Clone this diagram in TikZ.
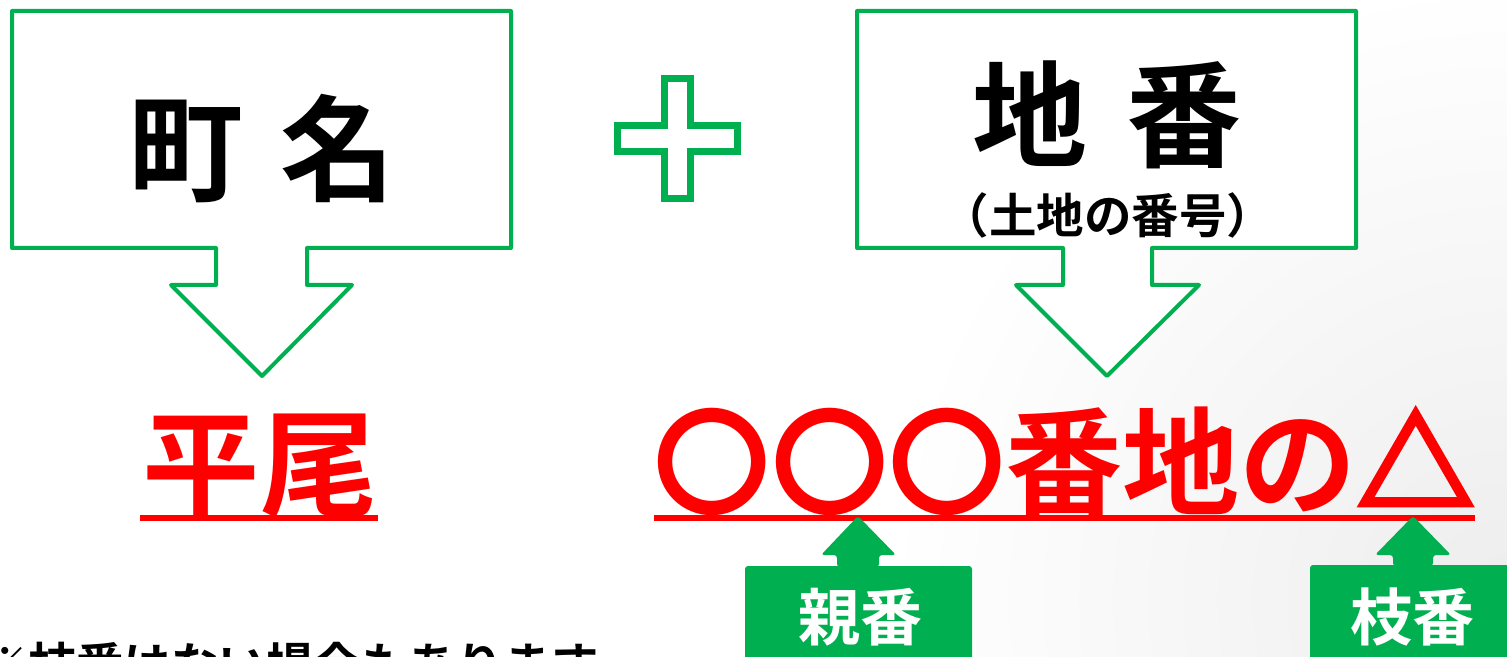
\documentclass[tikz,border=0pt]{standalone}
\usepackage{fontspec}
\setmainfont{Noto Sans CJK JP}[BoldFont={Noto Sans CJK JP Bold}]
\newfontfamily\trifont{Noto Sans CJK JP Bold}[FakeBold=4]
\definecolor{gr}{HTML}{00B050}
\definecolor{rd}{HTML}{FF0000}
\tikzset{
  callout/.style={draw=gr,line width=2pt,line join=round,fill=white},
  plusshape/.style={draw=gr,line width=3.5pt,line join=miter},
  tag/.style={fill=gr,rounded corners=1.5pt},
  bigblack/.style={inner sep=0pt,anchor=base,font=\fontsize{57.5pt}{60pt}\selectfont\bfseries},
  bigred/.style={inner sep=0pt,anchor=base,text=rd,font=\fontsize{58.6pt}{60pt}\selectfont\bfseries},
  smalltext/.style={inner sep=0pt,font=\fontsize{23.75pt}{26pt}\selectfont\bfseries},
  tagtext/.style={inner sep=0pt,anchor=base,text=white,font=\fontsize{31pt}{33pt}\selectfont\bfseries},
  uline/.style={draw=rd,line width=2.8pt}
}
\begin{document}
\begin{tikzpicture}[x=0.5pt,y=-0.5pt]
\useasboundingbox (0,0) rectangle (1507,657);
\begin{scope}
\clip (0,0) rectangle (1507,657);
\fill[white] (0,0) rectangle (1507,657);
\shade[inner color=black!7,outer color=white] (1507,600) circle[radius=620];

% left callout
\draw[callout] (12,11) -- (511,11) -- (511,248) -- (307,248) -- (307,285) -- (352,285) -- (262,376) -- (171,285) -- (216,285) -- (216,248) -- (12,248) -- cycle;
\node[bigblack] (town) at (262,192.7) {町\hspace{19pt}名};

% plus
\draw[plusshape] (664.5,78.5) -- (690.5,78.5) -- (690.5,125.5) -- (737.5,125.5) -- (737.5,151.5) -- (690.5,151.5) -- (690.5,198.5) -- (664.5,198.5) -- (664.5,151.5) -- (617.5,151.5) -- (617.5,125.5) -- (664.5,125.5) -- cycle;

% right callout
\draw[callout] (857,11) -- (1356,11) -- (1356,248) -- (1152,248) -- (1152,285) -- (1199,285) -- (1107,376) -- (1016,285) -- (1063,285) -- (1063,248) -- (857,248) -- cycle;
\node[bigblack] (lot) at (1107,159) {地\hspace{20pt}番};
\node[smalltext,anchor=base] (lotsub) at (1108,234) {（土地の番号）};

% results
\node[bigred] (hirao) at (260,508) {平尾};
\draw[uline] (hirao.base west) ++(-2,10) coordinate (h1) -- ++(238,0) coordinate (h2);
\node[bigred,anchor=base west] (num) at (653.5,506.5) {〇〇〇番地の{\trifont △}};
\draw[uline] (654,518) coordinate (n1) -- (1475,518) coordinate (n2);

% tags
\fill[tag] (745,566) rectangle (972,720);
\fill[tag] (837,567) -- (837,555) -- (821,555) -- (858,516) -- (896,555) -- (879,555) -- (879,567) -- cycle;
\node[tagtext] (oya) at (860,640.5) {親番};

\fill[tag] (1310,565) rectangle (1537,720);
\fill[tag] (1393,566) -- (1393,555) -- (1375,555) -- (1413,516) -- (1451,555) -- (1433,555) -- (1433,566) -- cycle;
\node[tagtext] (eda) at (1412,640) {枝番};

% note
\node[smalltext,anchor=base west] (note) at (-19,682) {※枝番はない場合もあります};
\end{scope}
\end{tikzpicture}
\end{document}
